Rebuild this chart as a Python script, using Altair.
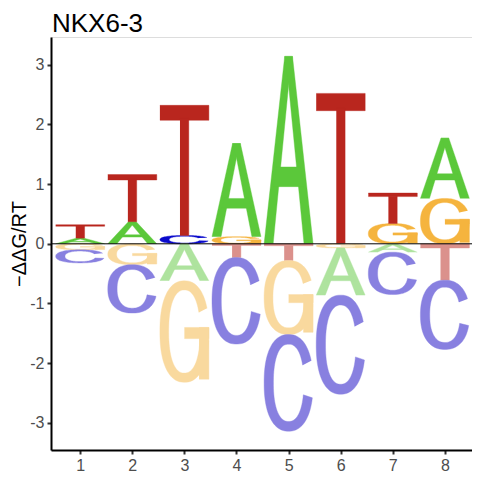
import numpy as np
import pandas as pd
import altair as alt

# ---------------- data ----------------
positions = [1, 2, 3, 4, 5, 6, 7, 8]

# letters above zero, stacked from the baseline upward
up_letters = [["A", "T"], ["A", "T"], ["C", "T"], ["G", "A"], ["A"], ["T"], ["G", "T"], ["G", "A"]]
up_heights = [[0.095, 0.225], [0.37, 0.79], [0.14, 2.18], [0.12, 1.56], [3.14], [2.52], [0.34, 0.51], [0.76, 1.01]]

# letters below zero, stacked from the baseline downward
down_letters = [["G", "C"], ["G", "C"], ["A", "G"], ["T", "C"], ["T", "G", "C"], ["G", "A", "C"], ["A", "C"], ["T", "C"]]
down_heights = [[0.10, 0.22], [0.35, 0.81], [0.62, 1.70], [0.23, 1.45], [0.28, 1.24, 1.62], [0.07, 0.79, 1.66], [0.14, 0.71], [0.61, 1.16]]

up_colors = {"A": "#5BC83A", "C": "#0A0ACC", "G": "#F5B43E", "T": "#B9261E"}
down_colors = {"A": "#AEE39E", "C": "#8880E0", "G": "#F9D99E", "T": "#DB918C"}

y_ticks = [-3, -2, -1, 0, 1, 2, 3]
zero_line = [0]
title_text = ["NKX6-3"]

# ---------------- glyph outlines in a unit box ----------------
def se(t, rx, ry, n=2.3):
    c, s = np.cos(t), np.sin(t)
    e = 2.0 / n
    return 0.5 + rx * np.sign(c) * np.abs(c) ** e, 0.5 + ry * np.sign(s) * np.abs(s) ** e


def ring(a1, a2, rxi, ryi, m=80):
    t = np.radians(np.linspace(a1, a2, m))
    xo, yo = se(t, 0.5, 0.5)
    xi, yi = se(t[::-1], rxi, ryi)
    return list(zip(np.r_[xo, xi], np.r_[yo, yi]))


def rect(x0, y0, x1, y1):
    return [(x0, y0), (x1, y0), (x1, y1), (x0, y1)]


GLYPHS = {
    "A": [
        [(0, 0), (0.42, 1), (0.58, 1), (0.5, 0.846), (0.185, 0)],
        [(1, 0), (0.58, 1), (0.42, 1), (0.5, 0.846), (0.815, 0)],
        [(0.2, 0.305), (0.8, 0.305), (0.75, 0.41), (0.25, 0.41)],
    ],
    "C": [ring(24, 345, 0.31, 0.40)],
    "G": [ring(24, 352, 0.32, 0.41), rect(0.5, 0.43, 1.0, 0.54), rect(0.8, 0.03, 1.0, 0.54)],
    "T": [rect(0, 0.885, 1, 1), rect(0.41, 0, 0.59, 0.9)],
}

LW = 0.94
rows = []


def add_letter(pos, letter, y0, h, color, tag):
    for j, piece in enumerate(GLYPHS[letter]):
        pid = f"{tag}-{j}"
        for k, (u, v) in enumerate(piece):
            rows.append({"piece": pid, "idx": k, "x": pos - LW / 2 + LW * u, "y": y0 + h * v, "color": color})


for i, pos in enumerate(positions):
    cum = 0.0
    for n, (L, h) in enumerate(zip(up_letters[i], up_heights[i])):
        add_letter(pos, L, cum, h, up_colors[L], f"u{pos}{n}{L}")
        cum += h
    cum = 0.0
    for n, (L, h) in enumerate(zip(down_letters[i], down_heights[i])):
        add_letter(pos, L, -(cum + h), h, down_colors[L], f"d{pos}{n}{L}")
        cum += h

df = pd.DataFrame(rows)

FONT = "Liberation Sans"
W, H = 421, 413

x_enc = alt.X(
    "x:Q",
    scale=alt.Scale(domain=[0.44, 8.52], nice=False, zero=False),
    axis=alt.Axis(values=positions, title=None, grid=False, domainColor="black", domainWidth=2,
                  tickColor="#333333", tickWidth=2, tickSize=4, labelPadding=3,
                  labelColor="#4D4D4D", labelFontSize=16, labelFont=FONT),
)
y_enc = alt.Y(
    "y:Q",
    scale=alt.Scale(domain=[-3.455, 3.465], nice=False, zero=False),
    axis=alt.Axis(values=y_ticks, title="−ΔΔG/RT", grid=False, domainColor="black", domainWidth=2,
                  tickColor="#333333", tickWidth=2, tickSize=4, labelPadding=3,
                  labelColor="#4D4D4D", labelFontSize=16, labelFont=FONT,
                  labelExpr="datum.value < 0 ? '-' + abs(datum.value) : '' + datum.value",
                  titleFont=FONT, titleFontSize=20, titleFontWeight="normal", titleColor="black",
                  titleAngle=270, titleX=-32, titleY=H / 2, titleBaseline="middle", titleAlign="center"),
)

letters = alt.Chart(df).mark_line(strokeWidth=0.4, interpolate="linear").encode(
    x=x_enc,
    y=y_enc,
    detail="piece:N",
    order="idx:Q",
    fill=alt.Fill("color:N", scale=None),
    stroke=alt.Stroke("color:N", scale=None),
)

zero = alt.Chart(pd.DataFrame({"y": zero_line})).mark_rule(color="black", strokeWidth=1).encode(
    y=alt.Y("y:Q")
)

title = alt.Chart(pd.DataFrame({"t": title_text})).mark_text(
    font=FONT, fontSize=26, color="black", align="left", baseline="alphabetic"
).encode(x=alt.value(1), y=alt.value(-5), text="t:N")

chart = alt.layer(letters, zero, title).properties(
    width=W,
    height=H,
    autosize="none",
    padding={"left": 43, "top": 29, "right": 0, "bottom": 22},
).configure_view(strokeWidth=0).configure(background="white")

chart.save("out.html", embed_options={"renderer": "svg", "actions": False})
